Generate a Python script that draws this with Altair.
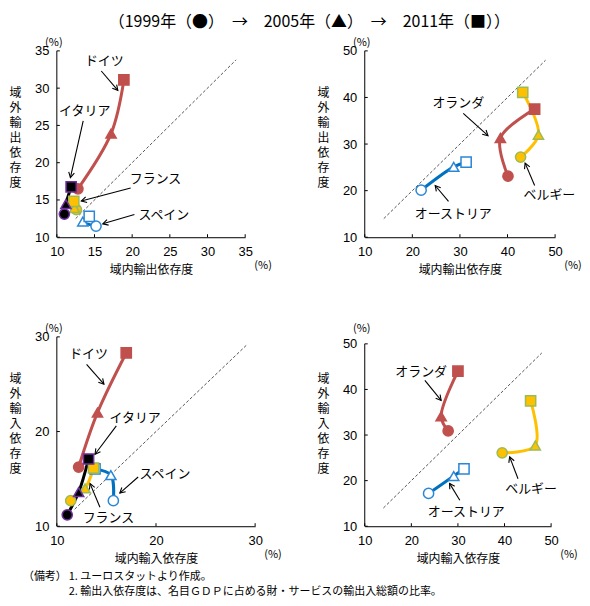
import math
import altair as alt
import pandas as pd

FONT_JP = "Noto Sans CJK JP"
FONT_NUM = "Liberation Sans"

YEARS = ["1999", "2005", "2011"]
YEAR_SHAPES = ["circle", "triangle-up", "square"]

COUNTRIES = ["スペイン", "オーストリア", "ドイツ", "オランダ", "フランス", "ベルギー", "イタリア"]
LINE_COLORS = ["#0070C0", "#0070C0", "#C0504D", "#C0504D", "#FFC000", "#FFC000", "#000000"]
FILL_COLORS = ["#FFFFFF", "#FFFFFF", "#C0504D", "#C0504D", "#FFC000", "#FFC000", "#000000"]
EDGE_COLORS = ["#2A86D6", "#2A86D6", "#C0504D", "#C0504D", "#9BBB59", "#9BBB59", "#7030A0"]

TITLE = "（1999年（●）　→　2005年（▲）　→　2011年（■））"
NOTE_HEAD = "（備考）"
NOTE_1 = "1. ユーロスタットより作成。"
NOTE_2 = "2. 輸出入依存度は、名目ＧＤＰに占める財・サービスの輸出入総額の比率。"

# ---- Panel 1: export dependence (x: intra-EU, y: extra-EU), values 1999/2005/2011
p1_de_x = [12.8, 17.2, 18.9]
p1_de_y = [16.5, 23.9, 31.1]
p1_it_x = [11.0, 11.2, 11.9]
p1_it_y = [13.1, 14.45, 16.75]
p1_fr_x = [12.6, 12.35, 12.25]
p1_fr_y = [13.7, 13.9, 14.8]
p1_es_x = [15.2, 13.45, 14.3]
p1_es_y = [11.5, 12.1, 12.8]

# ---- Panel 2: export dependence
p2_nl_x = [40.1, 38.5, 45.7]
p2_nl_y = [23.1, 31.3, 37.5]
p2_be_x = [42.75, 46.5, 43.2]
p2_be_y = [27.2, 32.0, 41.1]
p2_at_x = [21.85, 28.7, 31.3]
p2_at_y = [20.1, 25.1, 26.1]

# ---- Panel 3: import dependence
p3_de_x = [12.2, 14.1, 17.0]
p3_de_y = [16.25, 22.0, 28.3]
p3_it_x = [11.05, 12.2, 13.2]
p3_it_y = [11.2, 13.6, 17.1]
p3_fr_x = [11.4, 12.85, 13.7]
p3_fr_y = [12.7, 14.0, 16.15]
p3_es_x = [15.7, 15.45, 13.85]
p3_es_y = [12.7, 15.4, 16.05]

# ---- Panel 4: import dependence
p4_nl_x = [27.9, 26.4, 30.0]
p4_nl_y = [30.9, 34.1, 44.0]
p4_be_x = [39.5, 46.6, 45.6]
p4_be_y = [26.1, 27.7, 37.5]
p4_at_x = [23.7, 29.1, 31.3]
p4_at_y = [17.2, 21.0, 22.6]

# ---- annotation labels: label, text x, text y, arrow start x, y, arrow end x, y
p1_labels = ["ドイツ", "イタリア", "フランス", "スペイン"]
p1_text_x = [16.3, 13.7, 23.1, 24.2]
p1_text_y = [33.6, 26.9, 17.75, 12.95]
p1_arr_x1 = [15.9, 13.5, 19.8, 20.3]
p1_arr_y1 = [32.3, 25.6, 16.6, 13.05]
p1_arr_x2 = [18.1, 11.8, 13.25, 16.1]
p1_arr_y2 = [29.7, 18.0, 14.85, 11.8]

p2_labels = ["オランダ", "ベルギー", "オーストリア"]
p2_text_x = [29.65, 48.8, 28.6]
p2_text_y = [38.8, 19.1, 14.9]
p2_arr_x1 = [30.7, 45.7, 27.6]
p2_arr_y1 = [36.6, 21.1, 17.7]
p2_arr_x2 = [35.9, 43.7, 24.8]
p2_arr_y2 = [31.8, 25.9, 21.1]

p3_labels = ["ドイツ", "イタリア", "スペイン", "フランス"]
p3_text_x = [13.2, 17.9, 20.9, 15.2]
p3_text_y = [28.2, 21.45, 15.5, 10.9]
p3_arr_x1 = [13.0, 16.0, 18.2, 14.35]
p3_arr_y1 = [27.1, 20.6, 15.2, 12.0]
p3_arr_x2 = [14.75, 13.85, 16.35, 13.35]
p3_arr_y2 = [25.0, 17.6, 13.5, 14.5]

p4_labels = ["オランダ", "ベルギー", "オーストリア"]
p4_text_x = [22.1, 45.7, 31.8]
p4_text_y = [43.8, 18.1, 13.1]
p4_arr_x1 = [22.9, 42.9, 30.4]
p4_arr_y1 = [42.0, 20.4, 15.7]
p4_arr_x2 = [26.4, 41.1, 28.2]
p4_arr_y2 = [37.6, 25.2, 19.4]

# diagonal (45-degree) reference lines
p1_diag = [12.5, 33.8]
p2_diag = [14.0, 48.0]
p3_diag = [11.8, 29.1]
p4_diag = [14.0, 48.0]

# axis ticks
p1_ticks = [10, 15, 20, 25, 30, 35]
p2_ticks = [10, 20, 30, 40, 50]
p3_ticks = [10, 20, 30]
p4_ticks = [10, 20, 30, 40, 50]

X_EXP = "域内輸出依存度"
Y_EXP = "域外輸出依存度"
X_IMP = "域内輸入依存度"
Y_IMP = "域外輸入依存度"


def series_df(series):
    rows = []
    for c, xs, ys in series:
        for i in range(3):
            rows.append({"c": c, "yr": YEARS[i], "yi": i, "x": xs[i], "y": ys[i]})
    df = pd.DataFrame(rows)
    df["ci"] = df["c"].map(COUNTRIES.index)
    return df.sort_values(["ci", "yi"]).reset_index(drop=True)


def panel(series, labels, tx, ty, ax1, ay1, ax2, ay2, diag, xdom, ydom,
          xticks, yticks, xtitle, ytitle, W, H, extra=None):
    xs = alt.Scale(domain=xdom, nice=False, zero=False)
    ys = alt.Scale(domain=ydom, nice=False, zero=False)
    xaxis = alt.Axis(values=xticks, ticks=False, grid=False, domain=True,
                     labelPadding=8, labelFlush=False, labelFont=FONT_NUM,
                     labelFontSize=13, labelColor="black", domainColor="black",
                     title=xtitle, titleFont=FONT_JP, titleFontSize=12,
                     titleFontWeight="normal", titleColor="black",
                     titleY=32, titleBaseline="middle")
    yaxis = alt.Axis(values=yticks, ticks=False, grid=False, domain=False,
                     labelPadding=8, labelFlush=False, labelFont=FONT_NUM,
                     labelFontSize=13, labelColor="black",
                     title=list(ytitle), titleFont=FONT_JP, titleFontSize=12,
                     titleFontWeight="normal", titleColor="black",
                     titleAngle=0, titleX=-42, titleY=37, titleAlign="center",
                     titleBaseline="top", titleLineHeight=15)
    X = alt.X("x:Q", scale=xs, axis=xaxis)
    Y = alt.Y("y:Q", scale=ys, axis=yaxis)

    df = series_df(series)
    kx = W / (xdom[1] - xdom[0])
    ky = H / (ydom[1] - ydom[0])
    ann = pd.DataFrame({"label": labels, "tx": tx, "ty": ty,
                        "x": ax1, "y": ay1, "x2": ax2, "y2": ay2})
    heads = pd.DataFrame({
        "x": ax2, "y": ay2,
        "a": [math.degrees(math.atan2((b2 - b1) * kx, (c2 - c1) * ky)) % 360
              for b1, c1, b2, c2 in zip(ax1, ay1, ax2, ay2)],
    })
    texts = pd.DataFrame({"label": labels, "x": tx, "y": ty})

    diag_l = alt.Chart(pd.DataFrame({"x": [diag[0]], "y": [diag[0]],
                                     "x2": [diag[1]], "y2": [diag[1]]})).mark_rule(
        color="#555555", strokeDash=[3, 2], strokeWidth=1).encode(
        x=X, y=Y, x2=alt.X2("x2:Q"), y2=alt.Y2("y2:Q"))

    yline = alt.Chart(pd.DataFrame({"y": [ydom[0]], "y2": [yticks[-1]]})).mark_rule(
        color="black", strokeWidth=1).encode(
        y=Y, y2=alt.Y2("y2:Q"), x=alt.value(0))

    xt = alt.Chart(pd.DataFrame({"x": xticks})).mark_rule(color="black").encode(
        x=X, y=alt.value(H), y2=alt.value(H - 3))
    yt = alt.Chart(pd.DataFrame({"y": yticks})).mark_rule(color="black").encode(
        y=Y, x=alt.value(0), x2=alt.value(3))

    lines = alt.Chart(df).mark_line(interpolate="catmull-rom", strokeWidth=3).encode(
        x=X, y=Y,
        color=alt.Color("c:N", scale=alt.Scale(domain=COUNTRIES, range=LINE_COLORS), legend=None),
        order=alt.Order("yi:Q"))

    pts = alt.Chart(df).mark_point(filled=True, size=105, strokeWidth=1.5, opacity=1).encode(
        x=X, y=Y,
        shape=alt.Shape("yr:N", scale=alt.Scale(domain=YEARS, range=YEAR_SHAPES), legend=None),
        fill=alt.Fill("c:N", scale=alt.Scale(domain=COUNTRIES, range=FILL_COLORS), legend=None),
        stroke=alt.Stroke("c:N", scale=alt.Scale(domain=COUNTRIES, range=EDGE_COLORS), legend=None))

    arrows = alt.Chart(ann).mark_rule(color="black", strokeWidth=1.1).encode(
        x=X, y=Y, x2=alt.X2("x2:Q"), y2=alt.Y2("y2:Q"))
    arrowheads = alt.Chart(heads).mark_point(
        shape="M-0.55,1L0,0L0.55,1", filled=False, size=110, color="black",
        strokeWidth=1.1, opacity=1).encode(
        x=X, y=Y, angle=alt.Angle("a:Q", scale=None))

    lbl = alt.Chart(texts).mark_text(font=FONT_JP, fontSize=13, color="black").encode(
        x=X, y=Y, text="label:N")

    pct_y = alt.Chart(pd.DataFrame({"t": ["(%)"]})).mark_text(
        font=FONT_JP, fontSize=11, color="black").encode(
        x=alt.value(-3), y=alt.value(-8), text="t:N")
    pct_x = alt.Chart(pd.DataFrame({"t": ["(%)"]})).mark_text(
        font=FONT_JP, fontSize=11, color="black").encode(
        x=alt.value(W + 18), y=alt.value(H + 29), text="t:N")

    layers = [diag_l, yline, xt, yt, lines, pts, arrows, arrowheads, lbl, pct_y, pct_x]
    if extra is not None:
        layers += extra
    return alt.layer(*layers).properties(width=W, height=H)


notes = [
    alt.Chart(pd.DataFrame({"t": [NOTE_HEAD]})).mark_text(
        font=FONT_JP, fontSize=11, color="black", align="left").encode(
        x=alt.value(-34), y=alt.value(241), text="t:N"),
    alt.Chart(pd.DataFrame({"t": [NOTE_1]})).mark_text(
        font=FONT_JP, fontSize=11, color="black", align="left").encode(
        x=alt.value(12), y=alt.value(241), text="t:N"),
    alt.Chart(pd.DataFrame({"t": [NOTE_2]})).mark_text(
        font=FONT_JP, fontSize=11, color="black", align="left").encode(
        x=alt.value(12), y=alt.value(256), text="t:N"),
]

P1 = panel([("ドイツ", p1_de_x, p1_de_y), ("イタリア", p1_it_x, p1_it_y),
            ("フランス", p1_fr_x, p1_fr_y), ("スペイン", p1_es_x, p1_es_y)],
           p1_labels, p1_text_x, p1_text_y, p1_arr_x1, p1_arr_y1, p1_arr_x2, p1_arr_y2,
           p1_diag, [10, 35], [10, 35], p1_ticks, p1_ticks, X_EXP, Y_EXP, 189, 187)
P2 = panel([("オランダ", p2_nl_x, p2_nl_y), ("ベルギー", p2_be_x, p2_be_y),
            ("オーストリア", p2_at_x, p2_at_y)],
           p2_labels, p2_text_x, p2_text_y, p2_arr_x1, p2_arr_y1, p2_arr_x2, p2_arr_y2,
           p2_diag, [10, 50], [10, 50], p2_ticks, p2_ticks, X_EXP, Y_EXP, 191, 187)
P3 = panel([("ドイツ", p3_de_x, p3_de_y), ("イタリア", p3_it_x, p3_it_y),
            ("フランス", p3_fr_x, p3_fr_y), ("スペイン", p3_es_x, p3_es_y)],
           p3_labels, p3_text_x, p3_text_y, p3_arr_x1, p3_arr_y1, p3_arr_x2, p3_arr_y2,
           p3_diag, [10, 30], [10, 30], p3_ticks, p3_ticks, X_IMP, Y_IMP, 199, 190,
           extra=notes)
P4 = panel([("オランダ", p4_nl_x, p4_nl_y), ("ベルギー", p4_be_x, p4_be_y),
            ("オーストリア", p4_at_x, p4_at_y)],
           p4_labels, p4_text_x, p4_text_y, p4_arr_x1, p4_arr_y1, p4_arr_x2, p4_arr_y2,
           p4_diag, [10, 50], [10, 51.53], p4_ticks, p4_ticks, X_IMP, Y_IMP, 187, 190)

chart = alt.concat(
    P1, P2, P3, P4, columns=2, spacing={"row": 100, "column": 110}, bounds="flush"
).resolve_scale(x="independent", y="independent").properties(
    padding={"top": 5, "left": 0, "right": 0, "bottom": 0},
    title=alt.TitleParams(text=TITLE, font=FONT_JP, fontSize=16, fontWeight="normal",
                          color="black", anchor="middle", offset=7, dx=14),
).configure_view(stroke=None)

chart.save("out.html", embed_options={"renderer": "svg", "actions": False})
